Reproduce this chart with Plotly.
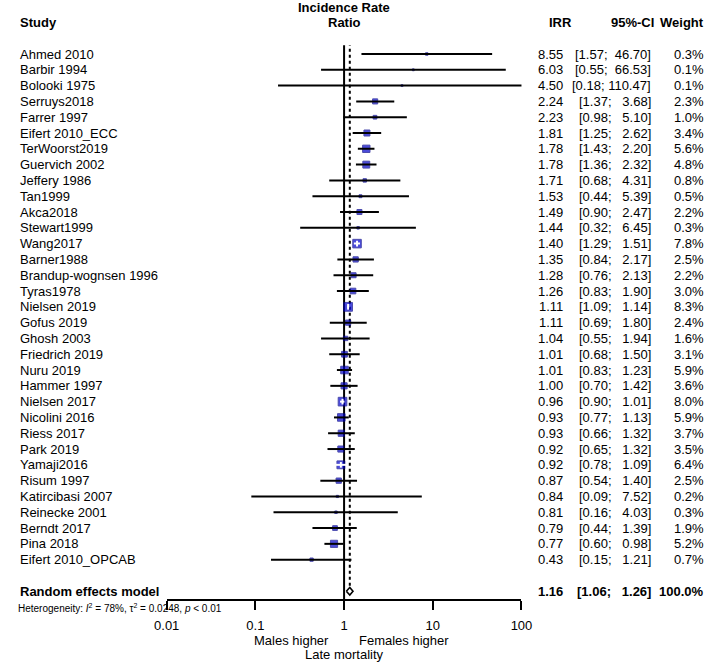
import math
import plotly.graph_objects as go

# Study-level results (incidence rate ratio, 95% CI, weight in %)
studies = [
    "Ahmed 2010", "Barbir 1994", "Bolooki 1975", "Serruys2018", "Farrer 1997",
    "Eifert 2010_ECC", "TerWoorst2019", "Guervich 2002", "Jeffery 1986", "Tan1999",
    "Akca2018", "Stewart1999", "Wang2017", "Barner1988", "Brandup-wognsen 1996",
    "Tyras1978", "Nielsen 2019", "Gofus 2019", "Ghosh 2003", "Friedrich 2019",
    "Nuru 2019", "Hammer 1997", "Nielsen 2017", "Nicolini 2016", "Riess 2017",
    "Park 2019", "Yamaji2016", "Risum 1997", "Katircibasi 2007", "Reinecke 2001",
    "Berndt 2017", "Pina 2018", "Eifert 2010_OPCAB",
]
irr = [8.55, 6.03, 4.50, 2.24, 2.23, 1.81, 1.78, 1.78, 1.71, 1.53, 1.49, 1.44,
       1.40, 1.35, 1.28, 1.26, 1.11, 1.11, 1.04, 1.01, 1.01, 1.00, 0.96, 0.93,
       0.93, 0.92, 0.92, 0.87, 0.84, 0.81, 0.79, 0.77, 0.43]
ci_low = [1.57, 0.55, 0.18, 1.37, 0.98, 1.25, 1.43, 1.36, 0.68, 0.44, 0.90, 0.32,
          1.29, 0.84, 0.76, 0.83, 1.09, 0.69, 0.55, 0.68, 0.83, 0.70, 0.90, 0.77,
          0.66, 0.65, 0.78, 0.54, 0.09, 0.16, 0.44, 0.60, 0.15]
ci_high = [46.70, 66.53, 110.47, 3.68, 5.10, 2.62, 2.20, 2.32, 4.31, 5.39, 2.47, 6.45,
           1.51, 2.17, 2.13, 1.90, 1.14, 1.80, 1.94, 1.50, 1.23, 1.42, 1.01, 1.13,
           1.32, 1.32, 1.09, 1.40, 7.52, 4.03, 1.39, 0.98, 1.21]
weight = [0.3, 0.1, 0.1, 2.3, 1.0, 3.4, 5.6, 4.8, 0.8, 0.5, 2.2, 0.3,
          7.8, 2.5, 2.2, 3.0, 8.3, 2.4, 1.6, 3.1, 5.9, 3.6, 8.0, 5.9,
          3.7, 3.5, 6.4, 2.5, 0.2, 0.3, 1.9, 5.2, 0.7]

# Random effects summary
pooled_irr = 1.16
pooled_low = 1.06
pooled_high = 1.26
pooled_weight = 100.0
heterogeneity = "Heterogeneity: <i>I</i><sup>2</sup> = 78%, \u03c4<sup>2</sup> = 0.0248, <i>p</i> &lt; 0.01"

x_ticks = [0.01, 0.1, 1, 10, 100]
tick_labels = ["0.01", "0.1", "1", "10", "100"]

W, H = 720, 665
FONT = "Liberation Sans, Arial, sans-serif"
DECADE_PX = 91.75  # pixel width of one log decade
NB = "\u00a0"

rows = [-i for i in range(len(studies))]
pooled_row = -(len(studies) + 1)
y_bottom, y_top = -34.49, 0.886

# box sizes ~ sqrt(weight); CI drawn white when it fits inside the box
sizes = [2.7 * math.sqrt(w) + 1 for w in weight]
inside = [math.log10(h / l) * DECADE_PX <= 5.5 * math.sqrt(w)
          for l, h, w in zip(ci_low, ci_high, weight)]

black_x, black_y, white_x, white_y, tick_x, tick_y = [], [], [], [], [], []
for lo, hi, r, ins, est in zip(ci_low, ci_high, rows, inside, irr):
    if ins:
        white_x += [lo, hi, None]
        white_y += [r, r, None]
        tick_x.append(est)
        tick_y.append(r)
    else:
        black_x += [lo, hi, None]
        black_y += [r, r, None]


def ci_text(lo, hi):
    hs = f"{hi:.2f}"
    return f"[{lo:.2f};" + NB * (7 - len(hs)) + hs + "]"


fig = go.Figure()

fig.add_trace(go.Scatter(
    x=irr, y=rows, mode="markers",
    marker=dict(symbol="square", size=sizes, color="#0000cd",
                line=dict(color="#00008b", width=1)),
    hoverinfo="skip"))
fig.add_trace(go.Scatter(x=black_x, y=black_y, mode="lines",
                         line=dict(color="black", width=2), hoverinfo="skip"))
fig.add_trace(go.Scatter(x=white_x, y=white_y, mode="lines",
                         line=dict(color="white", width=2), hoverinfo="skip"))
fig.add_trace(go.Scatter(x=tick_x, y=tick_y, mode="markers",
                         marker=dict(symbol="line-ns", size=4,
                                     line=dict(color="white", width=2)),
                         hoverinfo="skip"))

# summary diamond
dh = 0.24
fig.add_trace(go.Scatter(
    x=[pooled_low, pooled_irr, pooled_high, pooled_irr, pooled_low],
    y=[pooled_row, pooled_row + dh, pooled_row, pooled_row - dh, pooled_row],
    mode="lines", fill="toself", fillcolor="white",
    line=dict(color="black", width=1.6), hoverinfo="skip"))

# reference line at 1 and dotted line at pooled estimate
fig.add_shape(type="line", xref="x", yref="y", x0=1, x1=1, y0=y_bottom, y1=0.55,
              line=dict(color="black", width=2), layer="below")
fig.add_shape(type="line", xref="x", yref="y", x0=pooled_irr, x1=pooled_irr,
              y0=pooled_row + 0.35, y1=0.55,
              line=dict(color="black", width=2, dash="dot"), layer="below")

ann = []


def text(x_px, y, s, anchor, size=13, bold=False, yref="y"):
    if bold:
        s = "<b>" + s + "</b>"
    if yref == "paper":
        y = 1 - y / H
    ann.append(dict(x=x_px / W, y=y, xref="paper", yref=yref, text=s,
                    xanchor=anchor, yanchor="middle", showarrow=False,
                    font=dict(family=FONT, size=size, color="black")))


# headers
text(342.5, 7, "Incidence Rate", "center", bold=True, yref="paper")
text(342.5, 23, "Ratio", "center", bold=True, yref="paper")
text(5, 23, "Study", "left", bold=True, yref="paper")
text(580, 23, "IRR", "right", bold=True, yref="paper")
text(665, 23, "95%-CI", "right", bold=True, yref="paper")
text(717, 23, "Weight", "right", bold=True, yref="paper")

for name, est, lo, hi, w, r in zip(studies, irr, ci_low, ci_high, weight, rows):
    text(5, r, name, "left")
    text(571, r, f"{est:.2f}", "right")
    text(662, r, ci_text(lo, hi), "right")
    text(717, r, f"{w:.1f}%", "right")

text(5, pooled_row, "Random effects model", "left", bold=True)
text(571, pooled_row, f"{pooled_irr:.2f}", "right", bold=True)
text(662, pooled_row, ci_text(pooled_low, pooled_high), "right", bold=True)
text(717, pooled_row, f"{pooled_weight:.1f}%", "right", bold=True)
text(3, 608, heterogeneity, "left", size=10, yref="paper")

text(329, 640, "Males higher", "right", yref="paper")
text(356, 640, "Females higher", "left", yref="paper")
text(342.5, 654, "Late mortality", "center", yref="paper")

fig.update_layout(
    width=W, height=H,
    margin=dict(l=0, r=0, t=0, b=0),
    paper_bgcolor="white", plot_bgcolor="white",
    showlegend=False,
    annotations=ann,
    xaxis=dict(type="log", range=[-2, 2], domain=[159 / W, 526 / W],
               showline=True, linecolor="black", linewidth=2,
               ticks="outside", ticklen=9, tickwidth=2, tickcolor="black",
               tickvals=x_ticks, ticktext=tick_labels, ticklabelstandoff=4,
               tickfont=dict(family=FONT, size=13, color="black"),
               showgrid=False, zeroline=False, fixedrange=True),
    yaxis=dict(range=[y_bottom, y_top], domain=[(H - 599) / H, (H - 40) / H],
               visible=False, fixedrange=True),
)

# drop the default page margin so the figure sits at the window's top-left
fig.write_html("out.html",
               config={"displayModeBar": False},
               post_script="document.body.style.margin='0';"
                           "document.body.style.overflow='hidden';")
